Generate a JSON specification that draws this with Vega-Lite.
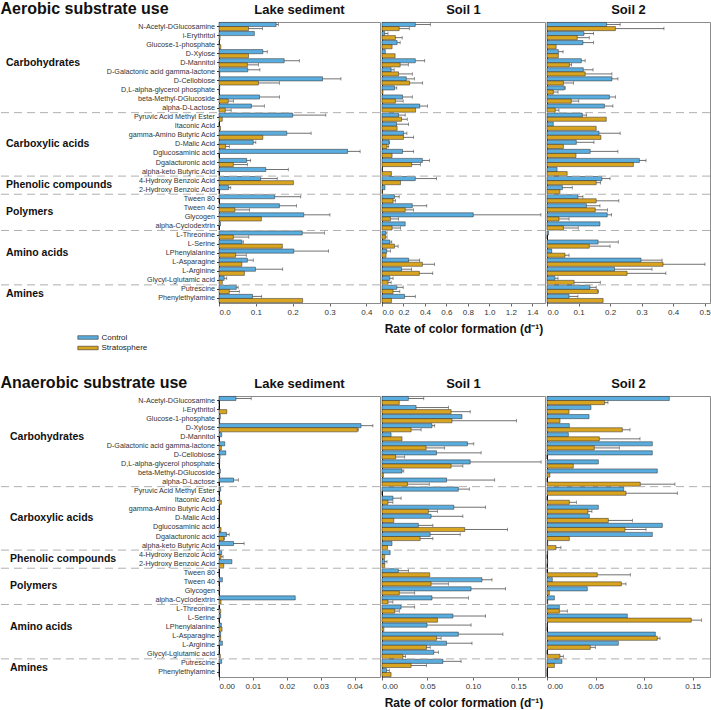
{
"$schema":"https://vega.github.io/schema/vega-lite/v6.json",
"padding":{"left":0,"top":1,"right":0,"bottom":0},
"background":"white",
"columns":4,
"bounds":"flush",
"spacing":{"row":93,"column":2},
"datasets":{
"aer":[
{"site":"L","s":"N-Acetyl-DGlucosamine","t":"Control","v":0.155,"u":0.161},
{"site":"L","s":"N-Acetyl-DGlucosamine","t":"Stratosphere","v":0.080,"u":0.118},
{"site":"L","s":"i-Erythritol","t":"Control","v":0.096},
{"site":"L","s":"i-Erythritol","t":"Stratosphere","v":0.003},
{"site":"L","s":"Glucose-1-phosphate","t":"Control","v":0.001},
{"site":"L","s":"Glucose-1-phosphate","t":"Stratosphere","v":0.005},
{"site":"L","s":"D-Xylose","t":"Control","v":0.119,"u":0.131},
{"site":"L","s":"D-Xylose","t":"Stratosphere","v":0.080},
{"site":"L","s":"D-Mannitol","t":"Control","v":0.177,"u":0.218},
{"site":"L","s":"D-Mannitol","t":"Stratosphere","v":0.077,"u":0.107},
{"site":"L","s":"D-Galactonic acid gamma-lactone","t":"Control","v":0.078,"u":0.111},
{"site":"L","s":"D-Galactonic acid gamma-lactone","t":"Stratosphere","v":0.002},
{"site":"L","s":"D-Cellobiose","t":"Control","v":0.281,"u":0.331},
{"site":"L","s":"D-Cellobiose","t":"Stratosphere","v":0.107,"u":0.164},
{"site":"L","s":"D,L-alpha-glycerol phosphate","t":"Control","v":0.002},
{"site":"L","s":"D,L-alpha-glycerol phosphate","t":"Stratosphere","v":0.001},
{"site":"L","s":"beta-Methyl-DGlucoside","t":"Control","v":0.110,"u":0.164},
{"site":"L","s":"beta-Methyl-DGlucoside","t":"Stratosphere","v":0.025,"u":0.039},
{"site":"L","s":"alpha-D-Lactose","t":"Control","v":0.088,"u":0.123},
{"site":"L","s":"alpha-D-Lactose","t":"Stratosphere","v":0.017,"u":0.033},
{"site":"L","s":"Pyruvic Acid Methyl Ester","t":"Control","v":0.200,"u":0.290},
{"site":"L","s":"Pyruvic Acid Methyl Ester","t":"Stratosphere","v":0.009},
{"site":"L","s":"Itaconic Acid","t":"Control","v":0},
{"site":"L","s":"Itaconic Acid","t":"Stratosphere","v":0.004},
{"site":"L","s":"gamma-Amino Butyric Acid","t":"Control","v":0.184,"u":0.250},
{"site":"L","s":"gamma-Amino Butyric Acid","t":"Stratosphere","v":0.119},
{"site":"L","s":"D-Malic Acid","t":"Control","v":0.093,"u":0.100},
{"site":"L","s":"D-Malic Acid","t":"Stratosphere","v":0.018,"u":0.028},
{"site":"L","s":"Dglucosaminic acid","t":"Control","v":0.349,"u":0.383},
{"site":"L","s":"Dglucosaminic acid","t":"Stratosphere","v":0},
{"site":"L","s":"Dgalacturonic acid","t":"Control","v":0.075,"u":0.086},
{"site":"L","s":"Dgalacturonic acid","t":"Stratosphere","v":0.039,"u":0.077},
{"site":"L","s":"alpha-keto Butyric Acid","t":"Control","v":0.127,"u":0.188},
{"site":"L","s":"alpha-keto Butyric Acid","t":"Stratosphere","v":0},
{"site":"L","s":"4-Hydroxy Benzoic Acid","t":"Control","v":0.113,"u":0.158},
{"site":"L","s":"4-Hydroxy Benzoic Acid","t":"Stratosphere","v":0.202},
{"site":"L","s":"2-Hydroxy Benzoic Acid","t":"Control","v":0.026,"u":0.032},
{"site":"L","s":"2-Hydroxy Benzoic Acid","t":"Stratosphere","v":0},
{"site":"L","s":"Tween 80","t":"Control","v":0.151,"u":0.222},
{"site":"L","s":"Tween 80","t":"Stratosphere","v":0},
{"site":"L","s":"Tween 40","t":"Control","v":0.164,"u":0.210},
{"site":"L","s":"Tween 40","t":"Stratosphere","v":0.043,"u":0.083},
{"site":"L","s":"Glycogen","t":"Control","v":0.230,"u":0.301},
{"site":"L","s":"Glycogen","t":"Stratosphere","v":0.115},
{"site":"L","s":"alpha-Cyclodextrin","t":"Control","v":0.004},
{"site":"L","s":"alpha-Cyclodextrin","t":"Stratosphere","v":0},
{"site":"L","s":"L-Threonine","t":"Control","v":0.226,"u":0.286},
{"site":"L","s":"L-Threonine","t":"Stratosphere","v":0.039,"u":0.081},
{"site":"L","s":"L-Serine","t":"Control","v":0.062,"u":0.066},
{"site":"L","s":"L-Serine","t":"Stratosphere","v":0.172},
{"site":"L","s":"LPhenylalanine","t":"Control","v":0.203,"u":0.297},
{"site":"L","s":"LPhenylalanine","t":"Stratosphere","v":0.045,"u":0.074},
{"site":"L","s":"L-Asparagine","t":"Control","v":0.077,"u":0.093},
{"site":"L","s":"L-Asparagine","t":"Stratosphere","v":0.062},
{"site":"L","s":"L-Arginine","t":"Control","v":0.099,"u":0.173},
{"site":"L","s":"L-Arginine","t":"Stratosphere","v":0.069},
{"site":"L","s":"Glycyl-Lglutamic acid","t":"Control","v":0.014,"u":0.021},
{"site":"L","s":"Glycyl-Lglutamic acid","t":"Stratosphere","v":0.009},
{"site":"L","s":"Putrescine","t":"Control","v":0.047,"u":0.052},
{"site":"L","s":"Putrescine","t":"Stratosphere","v":0.028,"u":0.055},
{"site":"L","s":"Phenylethylamine","t":"Control","v":0.091,"u":0.116},
{"site":"L","s":"Phenylethylamine","t":"Stratosphere","v":0.227},
{"site":"S1","s":"N-Acetyl-DGlucosamine","t":"Control","v":0.31,"u":0.45},
{"site":"S1","s":"N-Acetyl-DGlucosamine","t":"Stratosphere","v":0.16,"u":0.254},
{"site":"S1","s":"i-Erythritol","t":"Control","v":0.025,"u":0.056},
{"site":"S1","s":"i-Erythritol","t":"Stratosphere","v":0.125,"u":0.188},
{"site":"S1","s":"Glucose-1-phosphate","t":"Control","v":0.141,"u":0.169},
{"site":"S1","s":"Glucose-1-phosphate","t":"Stratosphere","v":0.094},
{"site":"S1","s":"D-Xylose","t":"Control","v":0.031},
{"site":"S1","s":"D-Xylose","t":"Stratosphere","v":0.122},
{"site":"S1","s":"D-Mannitol","t":"Control","v":0.31,"u":0.398},
{"site":"S1","s":"D-Mannitol","t":"Stratosphere","v":0.169,"u":0.245},
{"site":"S1","s":"D-Galactonic acid gamma-lactone","t":"Control","v":0.085,"u":0.113},
{"site":"S1","s":"D-Galactonic acid gamma-lactone","t":"Stratosphere","v":0.154,"u":0.282},
{"site":"S1","s":"D-Cellobiose","t":"Control","v":0.226,"u":0.301},
{"site":"S1","s":"D-Cellobiose","t":"Stratosphere","v":0.257,"u":0.379},
{"site":"S1","s":"D,L-alpha-glycerol phosphate","t":"Control","v":0.116,"u":0.138},
{"site":"S1","s":"D,L-alpha-glycerol phosphate","t":"Stratosphere","v":0.009},
{"site":"S1","s":"beta-Methyl-DGlucoside","t":"Control","v":0.191,"u":0.282},
{"site":"S1","s":"beta-Methyl-DGlucoside","t":"Stratosphere","v":0.125,"u":0.197},
{"site":"S1","s":"alpha-D-Lactose","t":"Control","v":0.351,"u":0.423},
{"site":"S1","s":"alpha-D-Lactose","t":"Stratosphere","v":0.313},
{"site":"S1","s":"Pyruvic Acid Methyl Ester","t":"Control","v":0.154,"u":0.216},
{"site":"S1","s":"Pyruvic Acid Methyl Ester","t":"Stratosphere","v":0.182,"u":0.235},
{"site":"S1","s":"Itaconic Acid","t":"Control","v":0.135,"u":0.248},
{"site":"S1","s":"Itaconic Acid","t":"Stratosphere","v":0.141},
{"site":"S1","s":"gamma-Amino Butyric Acid","t":"Control","v":0.2,"u":0.232},
{"site":"S1","s":"gamma-Amino Butyric Acid","t":"Stratosphere","v":0.2,"u":0.292},
{"site":"S1","s":"D-Malic Acid","t":"Control","v":0.066,"u":0.069},
{"site":"S1","s":"D-Malic Acid","t":"Stratosphere","v":0.047,"u":0.063},
{"site":"S1","s":"Dglucosaminic acid","t":"Control","v":0.191,"u":0.295},
{"site":"S1","s":"Dglucosaminic acid","t":"Stratosphere","v":0.094},
{"site":"S1","s":"Dgalacturonic acid","t":"Control","v":0.376,"u":0.442},
{"site":"S1","s":"Dgalacturonic acid","t":"Stratosphere","v":0.276,"u":0.357},
{"site":"S1","s":"alpha-keto Butyric Acid","t":"Control","v":0.004},
{"site":"S1","s":"alpha-keto Butyric Acid","t":"Stratosphere","v":0.088},
{"site":"S1","s":"4-Hydroxy Benzoic Acid","t":"Control","v":0.31,"u":0.508},
{"site":"S1","s":"4-Hydroxy Benzoic Acid","t":"Stratosphere","v":0.172},
{"site":"S1","s":"2-Hydroxy Benzoic Acid","t":"Control","v":0.028},
{"site":"S1","s":"2-Hydroxy Benzoic Acid","t":"Stratosphere","v":0.004},
{"site":"S1","s":"Tween 80","t":"Control","v":0.116,"u":0.16},
{"site":"S1","s":"Tween 80","t":"Stratosphere","v":0.103,"u":0.125},
{"site":"S1","s":"Tween 40","t":"Control","v":0.282,"u":0.417},
{"site":"S1","s":"Tween 40","t":"Stratosphere","v":0.216,"u":0.292},
{"site":"S1","s":"Glycogen","t":"Control","v":0.85,"u":1.48},
{"site":"S1","s":"Glycogen","t":"Stratosphere","v":0.078,"u":0.154},
{"site":"S1","s":"alpha-Cyclodextrin","t":"Control","v":0.216},
{"site":"S1","s":"alpha-Cyclodextrin","t":"Stratosphere","v":0.094,"u":0.172},
{"site":"S1","s":"L-Threonine","t":"Control","v":0.034,"u":0.047},
{"site":"S1","s":"L-Threonine","t":"Stratosphere","v":0.031,"u":0.047},
{"site":"S1","s":"L-Serine","t":"Control","v":0.072,"u":0.091},
{"site":"S1","s":"L-Serine","t":"Stratosphere","v":0.116,"u":0.15},
{"site":"S1","s":"LPhenylalanine","t":"Control","v":0.044,"u":0.078},
{"site":"S1","s":"LPhenylalanine","t":"Stratosphere","v":0.038},
{"site":"S1","s":"L-Asparagine","t":"Control","v":0.248,"u":0.351},
{"site":"S1","s":"L-Asparagine","t":"Stratosphere","v":0.376,"u":0.489},
{"site":"S1","s":"L-Arginine","t":"Control","v":0.182,"u":0.276},
{"site":"S1","s":"L-Arginine","t":"Stratosphere","v":0.348,"u":0.473},
{"site":"S1","s":"Glycyl-Lglutamic acid","t":"Control","v":0.072,"u":0.103},
{"site":"S1","s":"Glycyl-Lglutamic acid","t":"Stratosphere","v":0.056,"u":0.085},
{"site":"S1","s":"Putrescine","t":"Control","v":0.138,"u":0.197},
{"site":"S1","s":"Putrescine","t":"Stratosphere","v":0.103,"u":0.166},
{"site":"S1","s":"Phenylethylamine","t":"Control","v":0.21,"u":0.31},
{"site":"S1","s":"Phenylethylamine","t":"Stratosphere","v":0.088},
{"site":"S2","s":"N-Acetyl-DGlucosamine","t":"Control","v":0.189,"u":0.232},
{"site":"S2","s":"N-Acetyl-DGlucosamine","t":"Stratosphere","v":0.217,"u":0.371},
{"site":"S2","s":"i-Erythritol","t":"Control","v":0.117,"u":0.148},
{"site":"S2","s":"i-Erythritol","t":"Stratosphere","v":0.096,"u":0.134},
{"site":"S2","s":"Glucose-1-phosphate","t":"Control","v":0.114,"u":0.147},
{"site":"S2","s":"Glucose-1-phosphate","t":"Stratosphere","v":0.029},
{"site":"S2","s":"D-Xylose","t":"Control","v":0.036,"u":0.051},
{"site":"S2","s":"D-Xylose","t":"Stratosphere","v":0.036},
{"site":"S2","s":"D-Mannitol","t":"Control","v":0.109,"u":0.121},
{"site":"S2","s":"D-Mannitol","t":"Stratosphere","v":0.071,"u":0.078},
{"site":"S2","s":"D-Galactonic acid gamma-lactone","t":"Control","v":0.115,"u":0.146},
{"site":"S2","s":"D-Galactonic acid gamma-lactone","t":"Stratosphere","v":0.121,"u":0.206},
{"site":"S2","s":"D-Cellobiose","t":"Control","v":0.206,"u":0.225},
{"site":"S2","s":"D-Cellobiose","t":"Stratosphere","v":0.052,"u":0.084},
{"site":"S2","s":"D,L-alpha-glycerol phosphate","t":"Control","v":0.055,"u":0.058},
{"site":"S2","s":"D,L-alpha-glycerol phosphate","t":"Stratosphere","v":0.02,"u":0.035},
{"site":"S2","s":"beta-Methyl-DGlucoside","t":"Control","v":0.198,"u":0.217},
{"site":"S2","s":"beta-Methyl-DGlucoside","t":"Stratosphere","v":0.077,"u":0.101},
{"site":"S2","s":"alpha-D-Lactose","t":"Control","v":0.182,"u":0.209},
{"site":"S2","s":"alpha-D-Lactose","t":"Stratosphere","v":0.026,"u":0.038},
{"site":"S2","s":"Pyruvic Acid Methyl Ester","t":"Control","v":0.112,"u":0.125},
{"site":"S2","s":"Pyruvic Acid Methyl Ester","t":"Stratosphere","v":0.188},
{"site":"S2","s":"Itaconic Acid","t":"Control","v":0.02},
{"site":"S2","s":"Itaconic Acid","t":"Stratosphere","v":0.156},
{"site":"S2","s":"gamma-Amino Butyric Acid","t":"Control","v":0.165,"u":0.232},
{"site":"S2","s":"gamma-Amino Butyric Acid","t":"Stratosphere","v":0.171},
{"site":"S2","s":"D-Malic Acid","t":"Control","v":0.093,"u":0.149},
{"site":"S2","s":"D-Malic Acid","t":"Stratosphere","v":0.052},
{"site":"S2","s":"Dglucosaminic acid","t":"Control","v":0.137,"u":0.225},
{"site":"S2","s":"Dglucosaminic acid","t":"Stratosphere","v":0.092},
{"site":"S2","s":"Dgalacturonic acid","t":"Control","v":0.293,"u":0.314},
{"site":"S2","s":"Dgalacturonic acid","t":"Stratosphere","v":0.274},
{"site":"S2","s":"alpha-keto Butyric Acid","t":"Control","v":0.032},
{"site":"S2","s":"alpha-keto Butyric Acid","t":"Stratosphere","v":0.064},
{"site":"S2","s":"4-Hydroxy Benzoic Acid","t":"Control","v":0.174,"u":0.2},
{"site":"S2","s":"4-Hydroxy Benzoic Acid","t":"Stratosphere","v":0.156,"u":0.17},
{"site":"S2","s":"2-Hydroxy Benzoic Acid","t":"Control","v":0.049,"u":0.08},
{"site":"S2","s":"2-Hydroxy Benzoic Acid","t":"Stratosphere","v":0.041},
{"site":"S2","s":"Tween 80","t":"Control","v":0.098,"u":0.114},
{"site":"S2","s":"Tween 80","t":"Stratosphere","v":0.156,"u":0.228},
{"site":"S2","s":"Tween 40","t":"Control","v":0.125,"u":0.168},
{"site":"S2","s":"Tween 40","t":"Stratosphere","v":0.153,"u":0.192},
{"site":"S2","s":"Glycogen","t":"Control","v":0.191,"u":0.205},
{"site":"S2","s":"Glycogen","t":"Stratosphere","v":0.038,"u":0.07},
{"site":"S2","s":"alpha-Cyclodextrin","t":"Control","v":0.168},
{"site":"S2","s":"alpha-Cyclodextrin","t":"Stratosphere","v":0.052,"u":0.099},
{"site":"S2","s":"L-Threonine","t":"Control","v":0.005},
{"site":"S2","s":"L-Threonine","t":"Stratosphere","v":0},
{"site":"S2","s":"L-Serine","t":"Control","v":0.162,"u":0.226},
{"site":"S2","s":"L-Serine","t":"Stratosphere","v":0.134,"u":0.2},
{"site":"S2","s":"LPhenylalanine","t":"Control","v":0.015},
{"site":"S2","s":"LPhenylalanine","t":"Stratosphere","v":0.057,"u":0.07},
{"site":"S2","s":"L-Asparagine","t":"Control","v":0.298,"u":0.365},
{"site":"S2","s":"L-Asparagine","t":"Stratosphere","v":0.368,"u":0.501},
{"site":"S2","s":"L-Arginine","t":"Control","v":0.214,"u":0.333},
{"site":"S2","s":"L-Arginine","t":"Stratosphere","v":0.254,"u":0.377},
{"site":"S2","s":"Glycyl-Lglutamic acid","t":"Control","v":0.025,"u":0.035},
{"site":"S2","s":"Glycyl-Lglutamic acid","t":"Stratosphere","v":0.086,"u":0.169},
{"site":"S2","s":"Putrescine","t":"Control","v":0.136,"u":0.156},
{"site":"S2","s":"Putrescine","t":"Stratosphere","v":0.161,"u":0.163},
{"site":"S2","s":"Phenylethylamine","t":"Control","v":0.07,"u":0.098},
{"site":"S2","s":"Phenylethylamine","t":"Stratosphere","v":0.178}
],
"ana":[
{"site":"L","s":"N-Acetyl-DGlucosamine","t":"Control","v":0.005,"u":0.0095},
{"site":"L","s":"N-Acetyl-DGlucosamine","t":"Stratosphere","v":0},
{"site":"L","s":"i-Erythritol","t":"Control","v":0},
{"site":"L","s":"i-Erythritol","t":"Stratosphere","v":0.0023},
{"site":"L","s":"Glucose-1-phosphate","t":"Control","v":0.0004},
{"site":"L","s":"Glucose-1-phosphate","t":"Stratosphere","v":0.0002},
{"site":"L","s":"D-Xylose","t":"Control","v":0.0419,"u":0.0454},
{"site":"L","s":"D-Xylose","t":"Stratosphere","v":0.0408,"u":0.0411},
{"site":"L","s":"D-Mannitol","t":"Control","v":0.0008},
{"site":"L","s":"D-Mannitol","t":"Stratosphere","v":0},
{"site":"L","s":"D-Galactonic acid gamma-lactone","t":"Control","v":0.0017},
{"site":"L","s":"D-Galactonic acid gamma-lactone","t":"Stratosphere","v":0.0007},
{"site":"L","s":"D-Cellobiose","t":"Control","v":0.002},
{"site":"L","s":"D-Cellobiose","t":"Stratosphere","v":0.0003},
{"site":"L","s":"D,L-alpha-glycerol phosphate","t":"Control","v":0.0002},
{"site":"L","s":"D,L-alpha-glycerol phosphate","t":"Stratosphere","v":0},
{"site":"L","s":"beta-Methyl-DGlucoside","t":"Control","v":0.0004},
{"site":"L","s":"beta-Methyl-DGlucoside","t":"Stratosphere","v":0.0002},
{"site":"L","s":"alpha-D-Lactose","t":"Control","v":0.0043,"u":0.0057},
{"site":"L","s":"alpha-D-Lactose","t":"Stratosphere","v":0},
{"site":"L","s":"Pyruvic Acid Methyl Ester","t":"Control","v":0.0005},
{"site":"L","s":"Pyruvic Acid Methyl Ester","t":"Stratosphere","v":0},
{"site":"L","s":"Itaconic Acid","t":"Control","v":0.0002},
{"site":"L","s":"Itaconic Acid","t":"Stratosphere","v":0.0007},
{"site":"L","s":"gamma-Amino Butyric Acid","t":"Control","v":0},
{"site":"L","s":"gamma-Amino Butyric Acid","t":"Stratosphere","v":0},
{"site":"L","s":"D-Malic Acid","t":"Control","v":0},
{"site":"L","s":"D-Malic Acid","t":"Stratosphere","v":0},
{"site":"L","s":"Dglucosaminic acid","t":"Control","v":0},
{"site":"L","s":"Dglucosaminic acid","t":"Stratosphere","v":0.0006},
{"site":"L","s":"Dgalacturonic acid","t":"Control","v":0.0022,"u":0.003},
{"site":"L","s":"Dgalacturonic acid","t":"Stratosphere","v":0.0014,"u":0.0016},
{"site":"L","s":"alpha-keto Butyric Acid","t":"Control","v":0.0043,"u":0.0074},
{"site":"L","s":"alpha-keto Butyric Acid","t":"Stratosphere","v":0},
{"site":"L","s":"4-Hydroxy Benzoic Acid","t":"Control","v":0.0008},
{"site":"L","s":"4-Hydroxy Benzoic Acid","t":"Stratosphere","v":0.0006,"u":0.0012},
{"site":"L","s":"2-Hydroxy Benzoic Acid","t":"Control","v":0.0038},
{"site":"L","s":"2-Hydroxy Benzoic Acid","t":"Stratosphere","v":0.0014},
{"site":"L","s":"Tween 80","t":"Control","v":0},
{"site":"L","s":"Tween 80","t":"Stratosphere","v":0},
{"site":"L","s":"Tween 40","t":"Control","v":0.001},
{"site":"L","s":"Tween 40","t":"Stratosphere","v":0},
{"site":"L","s":"Glycogen","t":"Control","v":0.0002},
{"site":"L","s":"Glycogen","t":"Stratosphere","v":0},
{"site":"L","s":"alpha-Cyclodextrin","t":"Control","v":0.0225},
{"site":"L","s":"alpha-Cyclodextrin","t":"Stratosphere","v":0.0006},
{"site":"L","s":"L-Threonine","t":"Control","v":0},
{"site":"L","s":"L-Threonine","t":"Stratosphere","v":0.0005},
{"site":"L","s":"L-Serine","t":"Control","v":0.0005},
{"site":"L","s":"L-Serine","t":"Stratosphere","v":0},
{"site":"L","s":"LPhenylalanine","t":"Control","v":0.0007},
{"site":"L","s":"LPhenylalanine","t":"Stratosphere","v":0.0009},
{"site":"L","s":"L-Asparagine","t":"Control","v":0.0005},
{"site":"L","s":"L-Asparagine","t":"Stratosphere","v":0.0005},
{"site":"L","s":"L-Arginine","t":"Control","v":0.001},
{"site":"L","s":"L-Arginine","t":"Stratosphere","v":0},
{"site":"L","s":"Glycyl-Lglutamic acid","t":"Control","v":0},
{"site":"L","s":"Glycyl-Lglutamic acid","t":"Stratosphere","v":0.0004},
{"site":"L","s":"Putrescine","t":"Control","v":0.0008},
{"site":"L","s":"Putrescine","t":"Stratosphere","v":0},
{"site":"L","s":"Phenylethylamine","t":"Control","v":0},
{"site":"L","s":"Phenylethylamine","t":"Stratosphere","v":0},
{"site":"S1","s":"N-Acetyl-DGlucosamine","t":"Control","v":0.029,"u":0.046},
{"site":"S1","s":"N-Acetyl-DGlucosamine","t":"Stratosphere","v":0.019},
{"site":"S1","s":"i-Erythritol","t":"Control","v":0.0375,"u":0.073},
{"site":"S1","s":"i-Erythritol","t":"Stratosphere","v":0.076,"u":0.097},
{"site":"S1","s":"Glucose-1-phosphate","t":"Control","v":0.088},
{"site":"S1","s":"Glucose-1-phosphate","t":"Stratosphere","v":0.077,"u":0.148},
{"site":"S1","s":"D-Xylose","t":"Control","v":0.055,"u":0.058},
{"site":"S1","s":"D-Xylose","t":"Stratosphere","v":0.032,"u":0.043},
{"site":"S1","s":"D-Mannitol","t":"Control","v":0.01},
{"site":"S1","s":"D-Mannitol","t":"Stratosphere","v":0.022},
{"site":"S1","s":"D-Galactonic acid gamma-lactone","t":"Control","v":0.094,"u":0.101},
{"site":"S1","s":"D-Galactonic acid gamma-lactone","t":"Stratosphere","v":0.0485,"u":0.069},
{"site":"S1","s":"D-Cellobiose","t":"Control","v":0.06,"u":0.109},
{"site":"S1","s":"D-Cellobiose","t":"Stratosphere","v":0.015,"u":0.025},
{"site":"S1","s":"D,L-alpha-glycerol phosphate","t":"Control","v":0.097,"u":0.175},
{"site":"S1","s":"D,L-alpha-glycerol phosphate","t":"Stratosphere","v":0.076,"u":0.089},
{"site":"S1","s":"beta-Methyl-DGlucoside","t":"Control","v":0.022,"u":0.024},
{"site":"S1","s":"beta-Methyl-DGlucoside","t":"Stratosphere","v":0.0015},
{"site":"S1","s":"alpha-D-Lactose","t":"Control","v":0.071,"u":0.124},
{"site":"S1","s":"alpha-D-Lactose","t":"Stratosphere","v":0.028,"u":0.052},
{"site":"S1","s":"Pyruvic Acid Methyl Ester","t":"Control","v":0.084,"u":0.096},
{"site":"S1","s":"Pyruvic Acid Methyl Ester","t":"Stratosphere","v":0},
{"site":"S1","s":"Itaconic Acid","t":"Control","v":0.012,"u":0.021},
{"site":"S1","s":"Itaconic Acid","t":"Stratosphere","v":0.0066,"u":0.012},
{"site":"S1","s":"gamma-Amino Butyric Acid","t":"Control","v":0.079,"u":0.114},
{"site":"S1","s":"gamma-Amino Butyric Acid","t":"Stratosphere","v":0.051,"u":0.061},
{"site":"S1","s":"D-Malic Acid","t":"Control","v":0.054,"u":0.089},
{"site":"S1","s":"D-Malic Acid","t":"Stratosphere","v":0.013},
{"site":"S1","s":"Dglucosaminic acid","t":"Control","v":0.04,"u":0.056},
{"site":"S1","s":"Dglucosaminic acid","t":"Stratosphere","v":0.091,"u":0.138},
{"site":"S1","s":"Dgalacturonic acid","t":"Control","v":0.053,"u":0.086},
{"site":"S1","s":"Dgalacturonic acid","t":"Stratosphere","v":0.042,"u":0.056},
{"site":"S1","s":"alpha-keto Butyric Acid","t":"Control","v":0.011},
{"site":"S1","s":"alpha-keto Butyric Acid","t":"Stratosphere","v":0.006},
{"site":"S1","s":"4-Hydroxy Benzoic Acid","t":"Control","v":0.009},
{"site":"S1","s":"4-Hydroxy Benzoic Acid","t":"Stratosphere","v":0.003},
{"site":"S1","s":"2-Hydroxy Benzoic Acid","t":"Control","v":0.003,"u":0.0055},
{"site":"S1","s":"2-Hydroxy Benzoic Acid","t":"Stratosphere","v":0.003},
{"site":"S1","s":"Tween 80","t":"Control","v":0.018,"u":0.029},
{"site":"S1","s":"Tween 80","t":"Stratosphere","v":0.0525},
{"site":"S1","s":"Tween 40","t":"Control","v":0.11,"u":0.121},
{"site":"S1","s":"Tween 40","t":"Stratosphere","v":0.054,"u":0.073},
{"site":"S1","s":"Glycogen","t":"Control","v":0.098,"u":0.136},
{"site":"S1","s":"Glycogen","t":"Stratosphere","v":0.019,"u":0.036},
{"site":"S1","s":"alpha-Cyclodextrin","t":"Control","v":0.055,"u":0.095},
{"site":"S1","s":"alpha-Cyclodextrin","t":"Stratosphere","v":0.0066,"u":0.012},
{"site":"S1","s":"L-Threonine","t":"Control","v":0.021,"u":0.036},
{"site":"S1","s":"L-Threonine","t":"Stratosphere","v":0.014,"u":0.019},
{"site":"S1","s":"L-Serine","t":"Control","v":0.078,"u":0.114},
{"site":"S1","s":"L-Serine","t":"Stratosphere","v":0.061},
{"site":"S1","s":"LPhenylalanine","t":"Control","v":0.0495,"u":0.098},
{"site":"S1","s":"LPhenylalanine","t":"Stratosphere","v":0.002},
{"site":"S1","s":"L-Asparagine","t":"Control","v":0.084,"u":0.133},
{"site":"S1","s":"L-Asparagine","t":"Stratosphere","v":0.06,"u":0.065},
{"site":"S1","s":"L-Arginine","t":"Control","v":0.071,"u":0.099},
{"site":"S1","s":"L-Arginine","t":"Stratosphere","v":0.049,"u":0.053},
{"site":"S1","s":"Glycyl-Lglutamic acid","t":"Control","v":0.057,"u":0.062},
{"site":"S1","s":"Glycyl-Lglutamic acid","t":"Stratosphere","v":0.023,"u":0.026},
{"site":"S1","s":"Putrescine","t":"Control","v":0.067,"u":0.087},
{"site":"S1","s":"Putrescine","t":"Stratosphere","v":0.032,"u":0.049},
{"site":"S1","s":"Phenylethylamine","t":"Control","v":0.005,"u":0.008},
{"site":"S1","s":"Phenylethylamine","t":"Stratosphere","v":0.01},
{"site":"S2","s":"N-Acetyl-DGlucosamine","t":"Control","v":0.126},
{"site":"S2","s":"N-Acetyl-DGlucosamine","t":"Stratosphere","v":0.0594,"u":0.0628},
{"site":"S2","s":"i-Erythritol","t":"Control","v":0.0453},
{"site":"S2","s":"i-Erythritol","t":"Stratosphere","v":0.0227},
{"site":"S2","s":"Glucose-1-phosphate","t":"Control","v":0.0433},
{"site":"S2","s":"Glucose-1-phosphate","t":"Stratosphere","v":0.0134},
{"site":"S2","s":"D-Xylose","t":"Control","v":0.023},
{"site":"S2","s":"D-Xylose","t":"Stratosphere","v":0.0776,"u":0.0855},
{"site":"S2","s":"D-Mannitol","t":"Control","v":0.022},
{"site":"S2","s":"D-Mannitol","t":"Stratosphere","v":0.0539,"u":0.0958},
{"site":"S2","s":"D-Galactonic acid gamma-lactone","t":"Control","v":0.1085},
{"site":"S2","s":"D-Galactonic acid gamma-lactone","t":"Stratosphere","v":0.0487,"u":0.0745},
{"site":"S2","s":"D-Cellobiose","t":"Control","v":0.1085},
{"site":"S2","s":"D-Cellobiose","t":"Stratosphere","v":0},
{"site":"S2","s":"D,L-alpha-glycerol phosphate","t":"Control","v":0.0529},
{"site":"S2","s":"D,L-alpha-glycerol phosphate","t":"Stratosphere","v":0.0271},
{"site":"S2","s":"beta-Methyl-DGlucoside","t":"Control","v":0.1136},
{"site":"S2","s":"beta-Methyl-DGlucoside","t":"Stratosphere","v":0.003},
{"site":"S2","s":"alpha-D-Lactose","t":"Control","v":0},
{"site":"S2","s":"alpha-D-Lactose","t":"Stratosphere","v":0.0961,"u":0.1318},
{"site":"S2","s":"Pyruvic Acid Methyl Ester","t":"Control","v":0.079},
{"site":"S2","s":"Pyruvic Acid Methyl Ester","t":"Stratosphere","v":0.0814,"u":0.1342},
{"site":"S2","s":"Itaconic Acid","t":"Control","v":0},
{"site":"S2","s":"Itaconic Acid","t":"Stratosphere","v":0.023,"u":0.0302},
{"site":"S2","s":"gamma-Amino Butyric Acid","t":"Control","v":0.0529},
{"site":"S2","s":"gamma-Amino Butyric Acid","t":"Stratosphere","v":0.0422,"u":0.0463},
{"site":"S2","s":"D-Malic Acid","t":"Control","v":0.0436},
{"site":"S2","s":"D-Malic Acid","t":"Stratosphere","v":0.0632,"u":0.0879},
{"site":"S2","s":"Dglucosaminic acid","t":"Control","v":0.1188},
{"site":"S2","s":"Dglucosaminic acid","t":"Stratosphere","v":0.0803,"u":0.102},
{"site":"S2","s":"Dgalacturonic acid","t":"Control","v":0.1085},
{"site":"S2","s":"Dgalacturonic acid","t":"Stratosphere","v":0.023},
{"site":"S2","s":"alpha-keto Butyric Acid","t":"Control","v":0.0007},
{"site":"S2","s":"alpha-keto Butyric Acid","t":"Stratosphere","v":0.0093,"u":0.0144},
{"site":"S2","s":"4-Hydroxy Benzoic Acid","t":"Control","v":0.0007},
{"site":"S2","s":"4-Hydroxy Benzoic Acid","t":"Stratosphere","v":0},
{"site":"S2","s":"2-Hydroxy Benzoic Acid","t":"Control","v":0.0007},
{"site":"S2","s":"2-Hydroxy Benzoic Acid","t":"Stratosphere","v":0},
{"site":"S2","s":"Tween 80","t":"Control","v":0},
{"site":"S2","s":"Tween 80","t":"Stratosphere","v":0.0518,"u":0.0858},
{"site":"S2","s":"Tween 40","t":"Control","v":0.0055},
{"site":"S2","s":"Tween 40","t":"Stratosphere","v":0.0766,"u":0.0814},
{"site":"S2","s":"Glycogen","t":"Control","v":0.0415},
{"site":"S2","s":"Glycogen","t":"Stratosphere","v":0.0024},
{"site":"S2","s":"alpha-Cyclodextrin","t":"Control","v":0.0076},
{"site":"S2","s":"alpha-Cyclodextrin","t":"Stratosphere","v":0.0007},
{"site":"S2","s":"L-Threonine","t":"Control","v":0.0127},
{"site":"S2","s":"L-Threonine","t":"Stratosphere","v":0.0127,"u":0.0209},
{"site":"S2","s":"L-Serine","t":"Control","v":0.0827},
{"site":"S2","s":"L-Serine","t":"Stratosphere","v":0.1486,"u":0.159},
{"site":"S2","s":"LPhenylalanine","t":"Control","v":0.0003},
{"site":"S2","s":"LPhenylalanine","t":"Stratosphere","v":0},
{"site":"S2","s":"L-Asparagine","t":"Control","v":0.1116},
{"site":"S2","s":"L-Asparagine","t":"Stratosphere","v":0.1136,"u":0.1164},
{"site":"S2","s":"L-Arginine","t":"Control","v":0.0735},
{"site":"S2","s":"L-Arginine","t":"Stratosphere","v":0.0446,"u":0.0498},
{"site":"S2","s":"Glycyl-Lglutamic acid","t":"Control","v":0},
{"site":"S2","s":"Glycyl-Lglutamic acid","t":"Stratosphere","v":0.0134,"u":0.0168},
{"site":"S2","s":"Putrescine","t":"Control","v":0.0154},
{"site":"S2","s":"Putrescine","t":"Stratosphere","v":0.0076},
{"site":"S2","s":"Phenylethylamine","t":"Control","v":0},
{"site":"S2","s":"Phenylethylamine","t":"Stratosphere","v":0}
]
},
"concat":[
{"width":216,"height":281,"title":{"text":"Aerobic substrate use","anchor":"start","fontSize":16},"view":{"stroke":null},
 "layer":[
  {"data":{"values":[{"s":"Pyruvic Acid Methyl Ester"},{"s":"4-Hydroxy Benzoic Acid"},{"s":"Tween 80"},{"s":"L-Threonine"},{"s":"Putrescine"}]},
   "mark":{"type":"rule","color":"#b0b0b0","strokeWidth":1,"strokeDash":[8,5]},
   "encoding":{"y":{"field":"s","type":"nominal","bandPosition":0,"scale":{"domain":["N-Acetyl-DGlucosamine","i-Erythritol","Glucose-1-phosphate","D-Xylose","D-Mannitol","D-Galactonic acid gamma-lactone","D-Cellobiose","D,L-alpha-glycerol phosphate","beta-Methyl-DGlucoside","alpha-D-Lactose","Pyruvic Acid Methyl Ester","Itaconic Acid","gamma-Amino Butyric Acid","D-Malic Acid","Dglucosaminic acid","Dgalacturonic acid","alpha-keto Butyric Acid","4-Hydroxy Benzoic Acid","2-Hydroxy Benzoic Acid","Tween 80","Tween 40","Glycogen","alpha-Cyclodextrin","L-Threonine","L-Serine","LPhenylalanine","L-Asparagine","L-Arginine","Glycyl-Lglutamic acid","Putrescine","Phenylethylamine"],"paddingInner":0,"paddingOuter":0},"axis":null}}},
  {"data":{"values":[{"cat":"Carbohydrates","s":"D-Mannitol"},{"cat":"Carboxylic acids","s":"D-Malic Acid"},{"cat":"Amino acids","s":"LPhenylalanine"}]},
   "mark":{"type":"text","align":"left","baseline":"middle","fontSize":10.5,"fontWeight":"bold","dx":5,"color":"#111"},
   "encoding":{"y":{"field":"s","type":"nominal","bandPosition":0.5},"x":{"datum":0,"type":"quantitative","scale":{"domain":[0,1]},"axis":null},"text":{"field":"cat"}}},
  {"data":{"values":[{"cat":"Phenolic compounds","s":"2-Hydroxy Benzoic Acid"},{"cat":"Polymers","s":"Glycogen"},{"cat":"Amines","s":"Phenylethylamine"}]},
   "mark":{"type":"text","align":"left","baseline":"middle","fontSize":10.5,"fontWeight":"bold","dx":5,"color":"#111"},
   "encoding":{"y":{"field":"s","type":"nominal","bandPosition":0},"x":{"datum":0,"type":"quantitative","axis":null},"text":{"field":"cat"}}}
 ]},
{"width":161,"height":281,"title":"Lake sediment",
 "layer":[
  {"data":{"name":"aer"},"transform":[{"filter":"datum.site==='L'"}],
   "mark":{"type":"bar","stroke":"#2a2a2a","strokeWidth":0.5},
   "encoding":{
    "y":{"field":"s","type":"nominal","scale":{"domain":["N-Acetyl-DGlucosamine","i-Erythritol","Glucose-1-phosphate","D-Xylose","D-Mannitol","D-Galactonic acid gamma-lactone","D-Cellobiose","D,L-alpha-glycerol phosphate","beta-Methyl-DGlucoside","alpha-D-Lactose","Pyruvic Acid Methyl Ester","Itaconic Acid","gamma-Amino Butyric Acid","D-Malic Acid","Dglucosaminic acid","Dgalacturonic acid","alpha-keto Butyric Acid","4-Hydroxy Benzoic Acid","2-Hydroxy Benzoic Acid","Tween 80","Tween 40","Glycogen","alpha-Cyclodextrin","L-Threonine","L-Serine","LPhenylalanine","L-Asparagine","L-Arginine","Glycyl-Lglutamic acid","Putrescine","Phenylethylamine"],"paddingInner":0,"paddingOuter":0},"axis":{"title":null,"labelFontSize":7.2,"labelColor":"#333","tickSize":2.5,"tickColor":"#333","domainColor":"#000","labelPadding":2}},
    "yOffset":{"field":"t","type":"nominal","scale":{"domain":["Control","Stratosphere"],"paddingOuter":0.1,"paddingInner":0}},
    "x":{"field":"v","type":"quantitative","scale":{"domain":[0,0.437],"nice":false},"axis":{"title":null,"values":[0,0.1,0.2,0.3,0.4],"format":".1f","labelOverlap":false}},
    "color":{"field":"t","type":"nominal","scale":{"domain":["Control","Stratosphere"],"range":["#5aaedf","#d9a420"]},"legend":{"title":null,"orient":"none","legendX":83,"legendY":311.5,"symbolType":"M-3.54,-0.62H3.54V0.62H-3.54Z","symbolSize":33,"symbolStrokeColor":"#333","symbolStrokeWidth":0.6,"labelFontSize":8,"labelOffset":9.5,"rowPadding":2.5,"labelColor":"#222"}}
   }},
  {"data":{"name":"aer"},"transform":[{"filter":"datum.site==='L' && isValid(datum.u)"}],
   "mark":{"type":"rule","color":"#333","strokeWidth":0.7},
   "encoding":{"y":{"field":"s","type":"nominal"},"yOffset":{"field":"t","type":"nominal"},"x":{"field":"v","type":"quantitative","axis":{"title":null,"values":[0,0.1,0.2,0.3,0.4],"format":".1f","labelOverlap":false}},"x2":{"field":"u"}}},
  {"data":{"name":"aer"},"transform":[{"filter":"datum.site==='L' && isValid(datum.u)"}],
   "mark":{"type":"tick","color":"#333","thickness":0.7,"size":3.5},
   "encoding":{"y":{"field":"s","type":"nominal"},"yOffset":{"field":"t","type":"nominal"},"x":{"field":"u","type":"quantitative","axis":{"title":null,"values":[0,0.1,0.2,0.3,0.4],"format":".1f","labelOverlap":false}}}},
  {"data":{"values":[{"s":"Pyruvic Acid Methyl Ester"},{"s":"4-Hydroxy Benzoic Acid"},{"s":"Tween 80"},{"s":"L-Threonine"},{"s":"Putrescine"}]},
   "mark":{"type":"rule","color":"#b0b0b0","strokeWidth":1,"strokeDash":[8,5]},
   "encoding":{"y":{"field":"s","type":"nominal","bandPosition":0}}}
 ]},
{"width":163,"height":281,"title":"Soil 1",
 "layer":[
  {"data":{"name":"aer"},"transform":[{"filter":"datum.site==='S1'"}],
   "mark":{"type":"bar","stroke":"#2a2a2a","strokeWidth":0.5},
   "encoding":{
    "y":{"field":"s","type":"nominal","scale":{"domain":["N-Acetyl-DGlucosamine","i-Erythritol","Glucose-1-phosphate","D-Xylose","D-Mannitol","D-Galactonic acid gamma-lactone","D-Cellobiose","D,L-alpha-glycerol phosphate","beta-Methyl-DGlucoside","alpha-D-Lactose","Pyruvic Acid Methyl Ester","Itaconic Acid","gamma-Amino Butyric Acid","D-Malic Acid","Dglucosaminic acid","Dgalacturonic acid","alpha-keto Butyric Acid","4-Hydroxy Benzoic Acid","2-Hydroxy Benzoic Acid","Tween 80","Tween 40","Glycogen","alpha-Cyclodextrin","L-Threonine","L-Serine","LPhenylalanine","L-Asparagine","L-Arginine","Glycyl-Lglutamic acid","Putrescine","Phenylethylamine"],"paddingInner":0,"paddingOuter":0},"axis":{"title":null,"labels":false,"ticks":false,"domainColor":"#000"}},
    "yOffset":{"field":"t","type":"nominal","scale":{"domain":["Control","Stratosphere"],"paddingOuter":0.1,"paddingInner":0}},
    "x":{"field":"v","type":"quantitative","scale":{"domain":[0,1.518],"nice":false},"axis":{"title":"Rate of color formation (d⁻¹)","values":[0,0.2,0.4,0.6,0.8,1.0,1.2,1.4],"format":".1f","labelOverlap":false}},
    "color":{"field":"t","type":"nominal","scale":{"domain":["Control","Stratosphere"],"range":["#5aaedf","#d9a420"]},"legend":{"title":null,"orient":"none","legendX":83,"legendY":311.5,"symbolType":"M-3.54,-0.62H3.54V0.62H-3.54Z","symbolSize":33,"symbolStrokeColor":"#333","symbolStrokeWidth":0.6,"labelFontSize":8,"labelOffset":9.5,"rowPadding":2.5,"labelColor":"#222"}}
   }},
  {"data":{"name":"aer"},"transform":[{"filter":"datum.site==='S1' && isValid(datum.u)"}],
   "mark":{"type":"rule","color":"#333","strokeWidth":0.7},
   "encoding":{"y":{"field":"s","type":"nominal"},"yOffset":{"field":"t","type":"nominal"},"x":{"field":"v","type":"quantitative","axis":{"title":"Rate of color formation (d⁻¹)","values":[0,0.2,0.4,0.6,0.8,1.0,1.2,1.4],"format":".1f","labelOverlap":false}},"x2":{"field":"u"}}},
  {"data":{"name":"aer"},"transform":[{"filter":"datum.site==='S1' && isValid(datum.u)"}],
   "mark":{"type":"tick","color":"#333","thickness":0.7,"size":3.5},
   "encoding":{"y":{"field":"s","type":"nominal"},"yOffset":{"field":"t","type":"nominal"},"x":{"field":"u","type":"quantitative","axis":{"title":"Rate of color formation (d⁻¹)","values":[0,0.2,0.4,0.6,0.8,1.0,1.2,1.4],"format":".1f","labelOverlap":false}}}},
  {"data":{"values":[{"s":"Pyruvic Acid Methyl Ester"},{"s":"4-Hydroxy Benzoic Acid"},{"s":"Tween 80"},{"s":"L-Threonine"},{"s":"Putrescine"}]},
   "mark":{"type":"rule","color":"#b0b0b0","strokeWidth":1,"strokeDash":[8,5]},
   "encoding":{"y":{"field":"s","type":"nominal","bandPosition":0}}}
 ]},
{"width":163,"height":281,"title":"Soil 2",
 "layer":[
  {"data":{"name":"aer"},"transform":[{"filter":"datum.site==='S2'"}],
   "mark":{"type":"bar","stroke":"#2a2a2a","strokeWidth":0.5},
   "encoding":{
    "y":{"field":"s","type":"nominal","scale":{"domain":["N-Acetyl-DGlucosamine","i-Erythritol","Glucose-1-phosphate","D-Xylose","D-Mannitol","D-Galactonic acid gamma-lactone","D-Cellobiose","D,L-alpha-glycerol phosphate","beta-Methyl-DGlucoside","alpha-D-Lactose","Pyruvic Acid Methyl Ester","Itaconic Acid","gamma-Amino Butyric Acid","D-Malic Acid","Dglucosaminic acid","Dgalacturonic acid","alpha-keto Butyric Acid","4-Hydroxy Benzoic Acid","2-Hydroxy Benzoic Acid","Tween 80","Tween 40","Glycogen","alpha-Cyclodextrin","L-Threonine","L-Serine","LPhenylalanine","L-Asparagine","L-Arginine","Glycyl-Lglutamic acid","Putrescine","Phenylethylamine"],"paddingInner":0,"paddingOuter":0},"axis":{"title":null,"labels":false,"ticks":false,"domainColor":"#000"}},
    "yOffset":{"field":"t","type":"nominal","scale":{"domain":["Control","Stratosphere"],"paddingOuter":0.1,"paddingInner":0}},
    "x":{"field":"v","type":"quantitative","scale":{"domain":[0,0.517],"nice":false},"axis":{"title":null,"values":[0,0.1,0.2,0.3,0.4,0.5],"format":".1f","labelOverlap":false}},
    "color":{"field":"t","type":"nominal","scale":{"domain":["Control","Stratosphere"],"range":["#5aaedf","#d9a420"]},"legend":{"title":null,"orient":"none","legendX":83,"legendY":311.5,"symbolType":"M-3.54,-0.62H3.54V0.62H-3.54Z","symbolSize":33,"symbolStrokeColor":"#333","symbolStrokeWidth":0.6,"labelFontSize":8,"labelOffset":9.5,"rowPadding":2.5,"labelColor":"#222"}}
   }},
  {"data":{"name":"aer"},"transform":[{"filter":"datum.site==='S2' && isValid(datum.u)"}],
   "mark":{"type":"rule","color":"#333","strokeWidth":0.7},
   "encoding":{"y":{"field":"s","type":"nominal"},"yOffset":{"field":"t","type":"nominal"},"x":{"field":"v","type":"quantitative","axis":{"title":null,"values":[0,0.1,0.2,0.3,0.4,0.5],"format":".1f","labelOverlap":false}},"x2":{"field":"u"}}},
  {"data":{"name":"aer"},"transform":[{"filter":"datum.site==='S2' && isValid(datum.u)"}],
   "mark":{"type":"tick","color":"#333","thickness":0.7,"size":3.5},
   "encoding":{"y":{"field":"s","type":"nominal"},"yOffset":{"field":"t","type":"nominal"},"x":{"field":"u","type":"quantitative","axis":{"title":null,"values":[0,0.1,0.2,0.3,0.4,0.5],"format":".1f","labelOverlap":false}}}},
  {"data":{"values":[{"s":"Pyruvic Acid Methyl Ester"},{"s":"4-Hydroxy Benzoic Acid"},{"s":"Tween 80"},{"s":"L-Threonine"},{"s":"Putrescine"}]},
   "mark":{"type":"rule","color":"#b0b0b0","strokeWidth":1,"strokeDash":[8,5]},
   "encoding":{"y":{"field":"s","type":"nominal","bandPosition":0}}}
 ]},
{"width":216,"height":281,"title":{"text":"Anaerobic substrate use","anchor":"start","fontSize":16},"view":{"stroke":null},
 "layer":[
  {"data":{"values":[{"s":"Pyruvic Acid Methyl Ester"},{"s":"4-Hydroxy Benzoic Acid"},{"s":"Tween 80"},{"s":"L-Threonine"},{"s":"Putrescine"}]},
   "mark":{"type":"rule","color":"#b0b0b0","strokeWidth":1,"strokeDash":[8,5]},
   "encoding":{"y":{"field":"s","type":"nominal","bandPosition":0,"scale":{"domain":["N-Acetyl-DGlucosamine","i-Erythritol","Glucose-1-phosphate","D-Xylose","D-Mannitol","D-Galactonic acid gamma-lactone","D-Cellobiose","D,L-alpha-glycerol phosphate","beta-Methyl-DGlucoside","alpha-D-Lactose","Pyruvic Acid Methyl Ester","Itaconic Acid","gamma-Amino Butyric Acid","D-Malic Acid","Dglucosaminic acid","Dgalacturonic acid","alpha-keto Butyric Acid","4-Hydroxy Benzoic Acid","2-Hydroxy Benzoic Acid","Tween 80","Tween 40","Glycogen","alpha-Cyclodextrin","L-Threonine","L-Serine","LPhenylalanine","L-Asparagine","L-Arginine","Glycyl-Lglutamic acid","Putrescine","Phenylethylamine"],"paddingInner":0,"paddingOuter":0},"axis":null}}},
  {"data":{"values":[{"cat":"Carbohydrates","s":"D-Mannitol"},{"cat":"Carboxylic acids","s":"D-Malic Acid"},{"cat":"Amino acids","s":"LPhenylalanine"}]},
   "mark":{"type":"text","align":"left","baseline":"middle","fontSize":10.5,"fontWeight":"bold","dx":9,"color":"#111"},
   "encoding":{"y":{"field":"s","type":"nominal","bandPosition":0.5},"x":{"datum":0,"type":"quantitative","scale":{"domain":[0,1]},"axis":null},"text":{"field":"cat"}}},
  {"data":{"values":[{"cat":"Phenolic compounds","s":"2-Hydroxy Benzoic Acid"},{"cat":"Polymers","s":"Glycogen"},{"cat":"Amines","s":"Phenylethylamine"}]},
   "mark":{"type":"text","align":"left","baseline":"middle","fontSize":10.5,"fontWeight":"bold","dx":9,"color":"#111"},
   "encoding":{"y":{"field":"s","type":"nominal","bandPosition":0},"x":{"datum":0,"type":"quantitative","axis":null},"text":{"field":"cat"}}}
 ]},
{"width":161,"height":281,"title":"Lake sediment",
 "layer":[
  {"data":{"name":"ana"},"transform":[{"filter":"datum.site==='L'"}],
   "mark":{"type":"bar","stroke":"#2a2a2a","strokeWidth":0.5},
   "encoding":{
    "y":{"field":"s","type":"nominal","scale":{"domain":["N-Acetyl-DGlucosamine","i-Erythritol","Glucose-1-phosphate","D-Xylose","D-Mannitol","D-Galactonic acid gamma-lactone","D-Cellobiose","D,L-alpha-glycerol phosphate","beta-Methyl-DGlucoside","alpha-D-Lactose","Pyruvic Acid Methyl Ester","Itaconic Acid","gamma-Amino Butyric Acid","D-Malic Acid","Dglucosaminic acid","Dgalacturonic acid","alpha-keto Butyric Acid","4-Hydroxy Benzoic Acid","2-Hydroxy Benzoic Acid","Tween 80","Tween 40","Glycogen","alpha-Cyclodextrin","L-Threonine","L-Serine","LPhenylalanine","L-Asparagine","L-Arginine","Glycyl-Lglutamic acid","Putrescine","Phenylethylamine"],"paddingInner":0,"paddingOuter":0},"axis":{"title":null,"labelFontSize":7.2,"labelColor":"#333","tickSize":2.5,"tickColor":"#333","domainColor":"#000","labelPadding":2}},
    "yOffset":{"field":"t","type":"nominal","scale":{"domain":["Control","Stratosphere"],"paddingOuter":0.1,"paddingInner":0}},
    "x":{"field":"v","type":"quantitative","scale":{"domain":[0,0.0475],"nice":false},"axis":{"title":null,"values":[0,0.01,0.02,0.03,0.04],"format":".2f","labelOverlap":false}},
    "color":{"field":"t","type":"nominal","scale":{"domain":["Control","Stratosphere"],"range":["#5aaedf","#d9a420"]},"legend":{"title":null,"orient":"none","legendX":83,"legendY":311.5,"symbolType":"M-3.54,-0.62H3.54V0.62H-3.54Z","symbolSize":33,"symbolStrokeColor":"#333","symbolStrokeWidth":0.6,"labelFontSize":8,"labelOffset":9.5,"rowPadding":2.5,"labelColor":"#222"}}
   }},
  {"data":{"name":"ana"},"transform":[{"filter":"datum.site==='L' && isValid(datum.u)"}],
   "mark":{"type":"rule","color":"#333","strokeWidth":0.7},
   "encoding":{"y":{"field":"s","type":"nominal"},"yOffset":{"field":"t","type":"nominal"},"x":{"field":"v","type":"quantitative","axis":{"title":null,"values":[0,0.01,0.02,0.03,0.04],"format":".2f","labelOverlap":false}},"x2":{"field":"u"}}},
  {"data":{"name":"ana"},"transform":[{"filter":"datum.site==='L' && isValid(datum.u)"}],
   "mark":{"type":"tick","color":"#333","thickness":0.7,"size":3.5},
   "encoding":{"y":{"field":"s","type":"nominal"},"yOffset":{"field":"t","type":"nominal"},"x":{"field":"u","type":"quantitative","axis":{"title":null,"values":[0,0.01,0.02,0.03,0.04],"format":".2f","labelOverlap":false}}}},
  {"data":{"values":[{"s":"Pyruvic Acid Methyl Ester"},{"s":"4-Hydroxy Benzoic Acid"},{"s":"Tween 80"},{"s":"L-Threonine"},{"s":"Putrescine"}]},
   "mark":{"type":"rule","color":"#b0b0b0","strokeWidth":1,"strokeDash":[8,5]},
   "encoding":{"y":{"field":"s","type":"nominal","bandPosition":0}}}
 ]},
{"width":163,"height":281,"title":"Soil 1",
 "layer":[
  {"data":{"name":"ana"},"transform":[{"filter":"datum.site==='S1'"}],
   "mark":{"type":"bar","stroke":"#2a2a2a","strokeWidth":0.5},
   "encoding":{
    "y":{"field":"s","type":"nominal","scale":{"domain":["N-Acetyl-DGlucosamine","i-Erythritol","Glucose-1-phosphate","D-Xylose","D-Mannitol","D-Galactonic acid gamma-lactone","D-Cellobiose","D,L-alpha-glycerol phosphate","beta-Methyl-DGlucoside","alpha-D-Lactose","Pyruvic Acid Methyl Ester","Itaconic Acid","gamma-Amino Butyric Acid","D-Malic Acid","Dglucosaminic acid","Dgalacturonic acid","alpha-keto Butyric Acid","4-Hydroxy Benzoic Acid","2-Hydroxy Benzoic Acid","Tween 80","Tween 40","Glycogen","alpha-Cyclodextrin","L-Threonine","L-Serine","LPhenylalanine","L-Asparagine","L-Arginine","Glycyl-Lglutamic acid","Putrescine","Phenylethylamine"],"paddingInner":0,"paddingOuter":0},"axis":{"title":null,"labels":false,"ticks":false,"domainColor":"#000"}},
    "yOffset":{"field":"t","type":"nominal","scale":{"domain":["Control","Stratosphere"],"paddingOuter":0.1,"paddingInner":0}},
    "x":{"field":"v","type":"quantitative","scale":{"domain":[0,0.1793],"nice":false},"axis":{"title":"Rate of color formation (d⁻¹)","values":[0,0.05,0.1,0.15],"format":".2f","labelOverlap":false}},
    "color":{"field":"t","type":"nominal","scale":{"domain":["Control","Stratosphere"],"range":["#5aaedf","#d9a420"]},"legend":{"title":null,"orient":"none","legendX":83,"legendY":311.5,"symbolType":"M-3.54,-0.62H3.54V0.62H-3.54Z","symbolSize":33,"symbolStrokeColor":"#333","symbolStrokeWidth":0.6,"labelFontSize":8,"labelOffset":9.5,"rowPadding":2.5,"labelColor":"#222"}}
   }},
  {"data":{"name":"ana"},"transform":[{"filter":"datum.site==='S1' && isValid(datum.u)"}],
   "mark":{"type":"rule","color":"#333","strokeWidth":0.7},
   "encoding":{"y":{"field":"s","type":"nominal"},"yOffset":{"field":"t","type":"nominal"},"x":{"field":"v","type":"quantitative","axis":{"title":"Rate of color formation (d⁻¹)","values":[0,0.05,0.1,0.15],"format":".2f","labelOverlap":false}},"x2":{"field":"u"}}},
  {"data":{"name":"ana"},"transform":[{"filter":"datum.site==='S1' && isValid(datum.u)"}],
   "mark":{"type":"tick","color":"#333","thickness":0.7,"size":3.5},
   "encoding":{"y":{"field":"s","type":"nominal"},"yOffset":{"field":"t","type":"nominal"},"x":{"field":"u","type":"quantitative","axis":{"title":"Rate of color formation (d⁻¹)","values":[0,0.05,0.1,0.15],"format":".2f","labelOverlap":false}}}},
  {"data":{"values":[{"s":"Pyruvic Acid Methyl Ester"},{"s":"4-Hydroxy Benzoic Acid"},{"s":"Tween 80"},{"s":"L-Threonine"},{"s":"Putrescine"}]},
   "mark":{"type":"rule","color":"#b0b0b0","strokeWidth":1,"strokeDash":[8,5]},
   "encoding":{"y":{"field":"s","type":"nominal","bandPosition":0}}}
 ]},
{"width":163,"height":281,"title":"Soil 2",
 "layer":[
  {"data":{"name":"ana"},"transform":[{"filter":"datum.site==='S2'"}],
   "mark":{"type":"bar","stroke":"#2a2a2a","strokeWidth":0.5},
   "encoding":{
    "y":{"field":"s","type":"nominal","scale":{"domain":["N-Acetyl-DGlucosamine","i-Erythritol","Glucose-1-phosphate","D-Xylose","D-Mannitol","D-Galactonic acid gamma-lactone","D-Cellobiose","D,L-alpha-glycerol phosphate","beta-Methyl-DGlucoside","alpha-D-Lactose","Pyruvic Acid Methyl Ester","Itaconic Acid","gamma-Amino Butyric Acid","D-Malic Acid","Dglucosaminic acid","Dgalacturonic acid","alpha-keto Butyric Acid","4-Hydroxy Benzoic Acid","2-Hydroxy Benzoic Acid","Tween 80","Tween 40","Glycogen","alpha-Cyclodextrin","L-Threonine","L-Serine","LPhenylalanine","L-Asparagine","L-Arginine","Glycyl-Lglutamic acid","Putrescine","Phenylethylamine"],"paddingInner":0,"paddingOuter":0},"axis":{"title":null,"labels":false,"ticks":false,"domainColor":"#000"}},
    "yOffset":{"field":"t","type":"nominal","scale":{"domain":["Control","Stratosphere"],"paddingOuter":0.1,"paddingInner":0}},
    "x":{"field":"v","type":"quantitative","scale":{"domain":[0,0.1679],"nice":false},"axis":{"title":null,"values":[0,0.05,0.1,0.15],"format":".2f","labelOverlap":false}},
    "color":{"field":"t","type":"nominal","scale":{"domain":["Control","Stratosphere"],"range":["#5aaedf","#d9a420"]},"legend":{"title":null,"orient":"none","legendX":83,"legendY":311.5,"symbolType":"M-3.54,-0.62H3.54V0.62H-3.54Z","symbolSize":33,"symbolStrokeColor":"#333","symbolStrokeWidth":0.6,"labelFontSize":8,"labelOffset":9.5,"rowPadding":2.5,"labelColor":"#222"}}
   }},
  {"data":{"name":"ana"},"transform":[{"filter":"datum.site==='S2' && isValid(datum.u)"}],
   "mark":{"type":"rule","color":"#333","strokeWidth":0.7},
   "encoding":{"y":{"field":"s","type":"nominal"},"yOffset":{"field":"t","type":"nominal"},"x":{"field":"v","type":"quantitative","axis":{"title":null,"values":[0,0.05,0.1,0.15],"format":".2f","labelOverlap":false}},"x2":{"field":"u"}}},
  {"data":{"name":"ana"},"transform":[{"filter":"datum.site==='S2' && isValid(datum.u)"}],
   "mark":{"type":"tick","color":"#333","thickness":0.7,"size":3.5},
   "encoding":{"y":{"field":"s","type":"nominal"},"yOffset":{"field":"t","type":"nominal"},"x":{"field":"u","type":"quantitative","axis":{"title":null,"values":[0,0.05,0.1,0.15],"format":".2f","labelOverlap":false}}}},
  {"data":{"values":[{"s":"Pyruvic Acid Methyl Ester"},{"s":"4-Hydroxy Benzoic Acid"},{"s":"Tween 80"},{"s":"L-Threonine"},{"s":"Putrescine"}]},
   "mark":{"type":"rule","color":"#b0b0b0","strokeWidth":1,"strokeDash":[8,5]},
   "encoding":{"y":{"field":"s","type":"nominal","bandPosition":0}}}
 ]}
],
"config":{
 "font":"Liberation Sans",
 "view":{"stroke":"#8c8c8c","strokeWidth":1},
 "axis":{"labelFontSize":8,"labelColor":"#333","tickColor":"#666","tickSize":3,"domainColor":"#8c8c8c","grid":false,"labelPadding":2,"labelOverlap":false,"titleFontSize":12,"titleFontWeight":"bold","titleColor":"#111","titlePadding":7},
 "title":{"fontSize":13,"fontWeight":"bold","color":"#111","offset":5,"baseline":"alphabetic"}
}
}
